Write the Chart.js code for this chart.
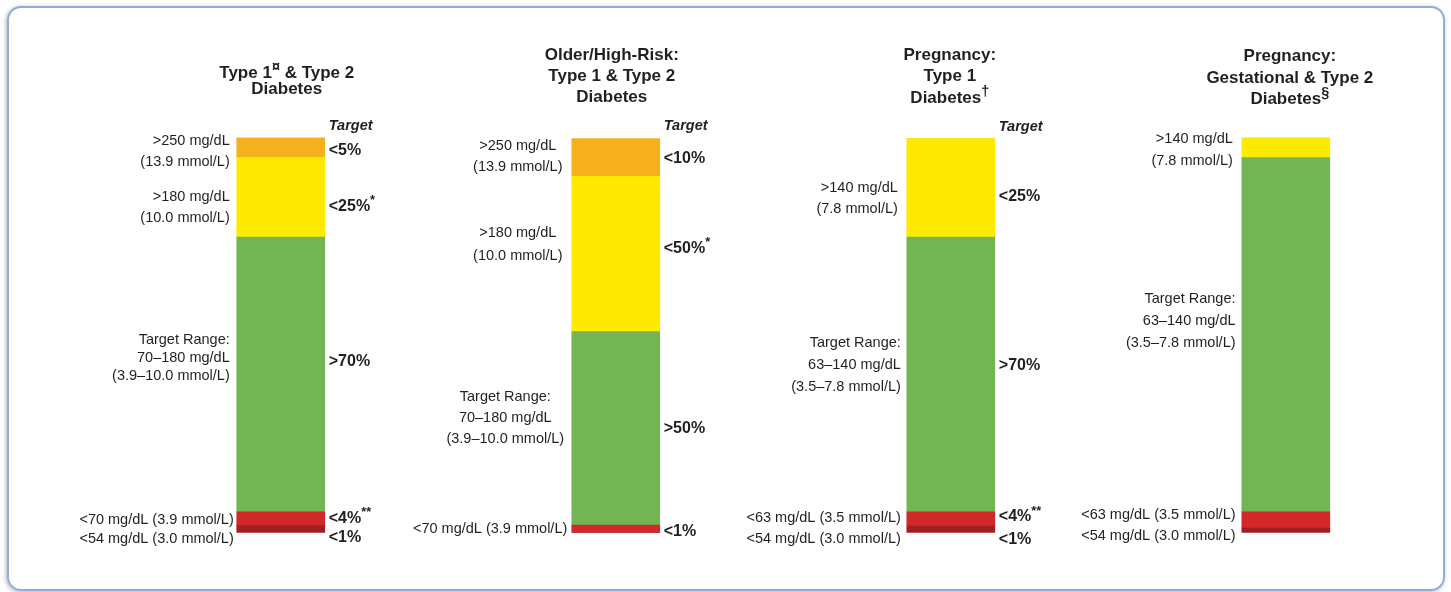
<!DOCTYPE html>
<html>
<head>
<meta charset="utf-8">
<script src="https://cdn.jsdelivr.net/npm/chart.js@4/dist/chart.umd.min.js"></script>
<style>
  html, body { margin: 0; padding: 0; background: #fff; }
  #frame {
    position: absolute; left: 7px; top: 6px; width: 1434px; height: 581px;
    border: 2px solid #91acdc; border-radius: 14px;
    box-shadow: -1px 1px 4px rgba(0, 0, 0, 0.3);
  }
  #tir { position: absolute; left: 0; top: 0; }
</style>
</head>
<body>
<div id="frame"></div>
<canvas id="tir" width="1451" height="592"></canvas>
<script>
// groups (one bar each), share of the bar per glucose band
const groups = ['Type 1 & Type 2 Diabetes', 'Older/High-Risk: Type 1 & Type 2 Diabetes',
  'Pregnancy: Type 1 Diabetes', 'Pregnancy: Gestational & Type 2 Diabetes'];
const veryLow = [1.8, 0, 1.7, 1.2];
const low = [3.5, 1.9, 3.6, 4.1];
const inRange = [69.5, 49.0, 69.5, 89.6];
const high = [20.2, 39.3, 24.9, 5.1];
const veryHigh = [5.0, 9.5, 0, 0];

// text ("^" wraps a superscript)
const titleLines = [
  ['Type 1^¤^ & Type 2', 'Diabetes'],
  ['Older/High-Risk:', 'Type 1 & Type 2', 'Diabetes'],
  ['Pregnancy:', 'Type 1', 'Diabetes^†^'],
  ['Pregnancy:', 'Gestational & Type 2', 'Diabetes^§^']
];
const rangeLabels = [
  [['>250 mg/dL', '(13.9 mmol/L)'], ['>180 mg/dL', '(10.0 mmol/L)'],
   ['Target Range:', '70–180 mg/dL', '(3.9–10.0 mmol/L)'],
   ['<70 mg/dL (3.9 mmol/L)'], ['<54 mg/dL (3.0 mmol/L)']],
  [['>250 mg/dL', '(13.9 mmol/L)'], ['>180 mg/dL', '(10.0 mmol/L)'],
   ['Target Range:', '70–180 mg/dL', '(3.9–10.0 mmol/L)'],
   ['<70 mg/dL (3.9 mmol/L)']],
  [['>140 mg/dL', '(7.8 mmol/L)'],
   ['Target Range:', '63–140 mg/dL', '(3.5–7.8 mmol/L)'],
   ['<63 mg/dL (3.5 mmol/L)'], ['<54 mg/dL (3.0 mmol/L)']],
  [['>140 mg/dL', '(7.8 mmol/L)'],
   ['Target Range:', '63–140 mg/dL', '(3.5–7.8 mmol/L)'],
   ['<63 mg/dL (3.5 mmol/L)'], ['<54 mg/dL (3.0 mmol/L)']]
];
const targetHeader = ['Target', 'Target', 'Target', ''];
const targetLabels = [
  ['<5%', '<25%^*^', '>70%', '<4%^**^', '<1%'],
  ['<10%', '<50%^*^', '>50%', '<1%'],
  ['<25%', '>70%', '<4%^**^', '<1%'],
  []
];

// where the text sits: y in bar units, x as offset from the bar centre
const titleY = [[116.2, 112.3], [120.9, 115.6, 110.2], [120.9, 115.4, 110.0], [120.5, 115.1, 109.7]];
const titleDx = [6, -4, -1, 4];
const rangePos = [
  [{y: 99.0, lh: 20.5, align: 'right', dx: -51}, {y: 84.9, lh: 20.7, align: 'right', dx: -51},
   {y: 48.8, lh: 18, align: 'right', dx: -51}, {y: 3.2, align: 'right', dx: -47}, {y: -1.7, align: 'right', dx: -47}],
  [{y: 97.9, lh: 21, align: 'center', dx: -98}, {y: 75.8, lh: 23, align: 'center', dx: -98},
   {y: 34.4, lh: 21, align: 'center', dx: -110.5}, {y: 0.9, align: 'right', dx: -48.5}],
  [{y: 87.1, lh: 21, align: 'right', dx: -53}, {y: 48.1, lh: 22.3, align: 'right', dx: -50},
   {y: 3.6, align: 'right', dx: -50}, {y: -1.7, align: 'right', dx: -50}],
  [{y: 99.6, lh: 21.7, align: 'right', dx: -53}, {y: 59.1, lh: 22, align: 'right', dx: -50.3},
   {y: 4.5, align: 'right', dx: -50.3}, {y: -0.8, align: 'right', dx: -50.3}]
];
const headerY = [102.8, 103.0, 102.6, 0];
const targetY = [
  [96.6, 82.5, 43.3, 3.6, -1.3],
  [94.7, 72.0, 26.4, 0.25],
  [85.0, 42.4, 4.0, -1.7],
  []
];

const BAR_W = 88;
const INK = '#231f20';
const FAMILY = '"Liberation Sans", Arial, Helvetica, sans-serif';

function font(size, weight, style) {
  return (style || 'normal') + ' ' + (weight || 'normal') + ' ' + size + 'px ' + FAMILY;
}

// draw a line of text that may hold ^superscript^ parts
function richText(ctx, str, x, y, align, size, weight, style, supScale) {
  const ss = supScale || 0.75;
  const segs = str.split('^').map((t, i) => ({ t: t, sup: i % 2 === 1 }));
  const widths = segs.map(s => {
    ctx.font = font(s.sup ? size * ss : size, weight, style);
    return ctx.measureText(s.t).width;
  });
  const total = widths.reduce((a, b) => a + b, 0);
  let cx = align === 'right' ? x - total : align === 'center' ? x - total / 2 : x;
  segs.forEach((s, i) => {
    ctx.font = font(s.sup ? size * ss : size, weight, style);
    ctx.fillText(s.t, cx, s.sup ? y - size * 0.36 : y);
    cx += widths[i];
  });
}

const labelPlugin = {
  id: 'labels',
  afterDatasetsDraw(chart) {
    const ctx = chart.ctx;
    const xs = chart.scales.x, ys = chart.scales.y;
    ctx.save();
    ctx.fillStyle = INK;
    ctx.textBaseline = 'middle';
    ctx.textAlign = 'left';
    groups.forEach((g, i) => {
      const cx = xs.getPixelForValue(i);
      titleLines[i].forEach((line, k) => {
        richText(ctx, line, cx + titleDx[i], ys.getPixelForValue(titleY[i][k]), 'center', 17, 'bold', 'normal', 0.85);
      });
      rangeLabels[i].forEach((block, k) => {
        const p = rangePos[i][k];
        const y0 = ys.getPixelForValue(p.y);
        block.forEach((line, n) => {
          richText(ctx, line, cx + p.dx, y0 + n * (p.lh || 0), p.align, 14.5);
        });
      });
      if (targetHeader[i]) {
        richText(ctx, targetHeader[i], cx + BAR_W / 2 + 4, ys.getPixelForValue(headerY[i]), 'left', 14.5, 'bold', 'italic');
      }
      targetLabels[i].forEach((t, k) => {
        richText(ctx, t, cx + BAR_W / 2 + 4, ys.getPixelForValue(targetY[i][k]), 'left', 16, 'bold', 'normal', 0.8);
      });
    });
    ctx.restore();
  }
};

function series(values) {
  return values.map((v, i) => ({ x: i, y: v }));
}

new Chart(document.getElementById('tir').getContext('2d'), {
  type: 'bar',
  data: {
    datasets: [
      { label: 'Very low', data: series(veryLow), backgroundColor: '#a11e22' },
      { label: 'Low', data: series(low), backgroundColor: '#d3282a' },
      { label: 'In range', data: series(inRange), backgroundColor: '#72b554' },
      { label: 'High', data: series(high), backgroundColor: '#fdea00' },
      { label: 'Very high', data: series(veryHigh), backgroundColor: '#f6b01d' }
    ]
  },
  options: {
    responsive: false,
    animation: false,
    devicePixelRatio: 1,
    barThickness: BAR_W,
    borderWidth: 0,
    layout: { padding: { left: 0, right: 0, top: 137.5, bottom: 59.3 } },
    plugins: { legend: { display: false }, tooltip: { enabled: false } },
    scales: {
      x: { type: 'linear', stacked: true, display: false, offset: false, min: -0.838, max: 3.493 },
      y: { stacked: true, display: false, min: 0, max: 100 }
    }
  },
  plugins: [labelPlugin]
});
</script>
</body>
</html>
